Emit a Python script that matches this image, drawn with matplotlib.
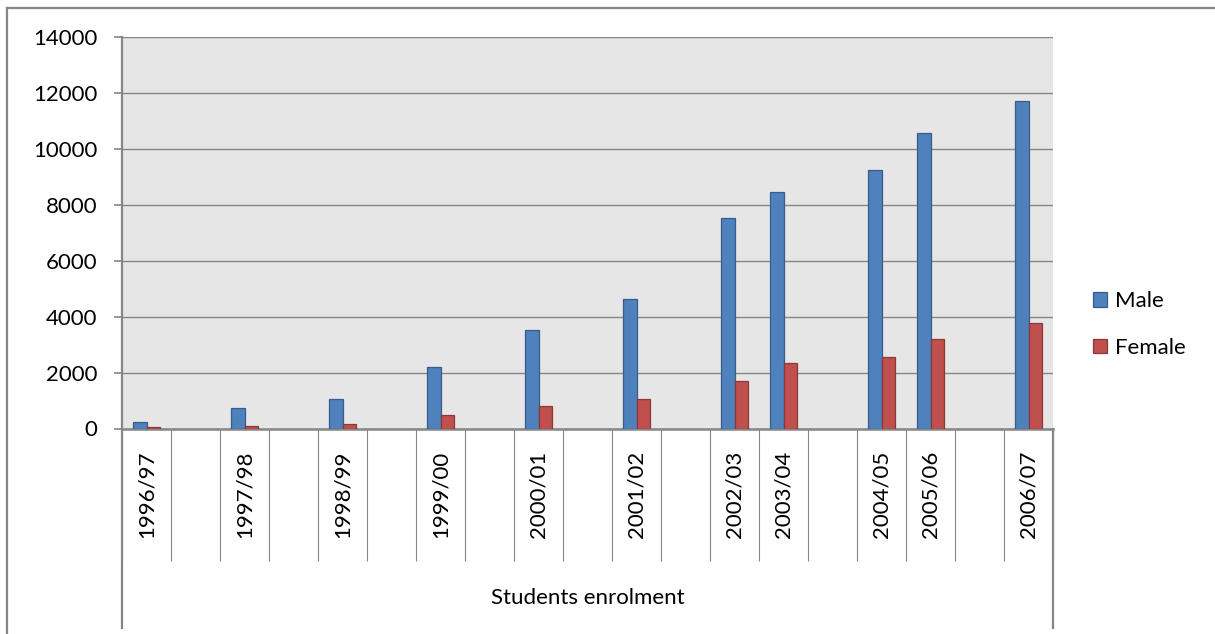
import numpy as np
import matplotlib
matplotlib.use("Agg")
import matplotlib.pyplot as plt
from matplotlib.lines import Line2D

# ================= data =================
# empty slots are blank rows of the original sheet
categories = ["1996/97", "", "1997/98", "", "1998/99", "", "1999/00", "",
              "2000/01", "", "2001/02", "", "2002/03", "2003/04", "",
              "2004/05", "2005/06", "", "2006/07"]
male = [240, None, 740, None, 1040, None, 2210, None,
        3530, None, 4650, None, 7540, 8460, None,
        9250, 10570, None, 11720]
female = [40, None, 100, None, 170, None, 490, None,
          810, None, 1040, None, 1690, 2330, None,
          2560, 3200, None, 3760]
series_names = ["Male", "Female"]
xlabel = "Students enrolment"
yticks = list(range(0, 14001, 2000))

# ================= style =================
plt.rcParams['font.family'] = ['Lato', 'DejaVu Sans']
FS = 16
GRAY = "#868686"
W, H, DPI = 1215, 634, 100

fig = plt.figure(figsize=(W / DPI, H / DPI), dpi=DPI)
ax_l, ax_r, ax_t, ax_b = 122, 1053, 37.3, 428.5
ax = fig.add_axes([ax_l / W, 1 - ax_b / H, (ax_r - ax_l) / W, (ax_b - ax_t) / H])
ax_h = ax_b - ax_t
px2pt = 72 / DPI

ax.set_facecolor("#E6E6E6")

n = len(categories)
centers = np.arange(n) + 0.5
bw = 0.285
m = np.array([np.nan if v is None else v for v in male], dtype=float)
f = np.array([np.nan if v is None else v for v in female], dtype=float)

b1 = ax.bar(centers - bw / 2, m, bw, color="#4F81BD", edgecolor="#385D8A",
            linewidth=0.9, label=series_names[0], zorder=3)
b2 = ax.bar(centers + bw / 2, f, bw, color="#C0504D", edgecolor="#8C3836",
            linewidth=0.9, label=series_names[1], zorder=3)

ax.set_xlim(0, n)
ax.set_ylim(0, 14000)
ax.set_yticks(yticks)
ax.set_yticklabels([str(v) for v in yticks], fontsize=FS)
ax.yaxis.grid(True, color=GRAY, linewidth=1.0, zorder=1)
ax.set_axisbelow(True)
ax.tick_params(axis="y", length=8 * px2pt, width=1.2, color=GRAY, pad=12)

# category boundaries as long major ticks, labels on minor ticks
ax.set_xticks(np.arange(n + 1))
ax.set_xticklabels([""] * (n + 1))
ax.tick_params(axis="x", which="major", length=131.5 * px2pt, width=0.8,
               color=GRAY, direction="out")
ax.set_xticks(centers, minor=True)
ax.set_xticklabels(categories, minor=True, rotation=90, fontsize=FS)
ax.tick_params(axis="x", which="minor", length=0, pad=65.5 * px2pt)
for lbl in ax.get_xticklabels(minor=True):
    lbl.set_va("center")

for s in ["top", "right"]:
    ax.spines[s].set_visible(False)
ax.spines["left"].set_color(GRAY)
ax.spines["left"].set_linewidth(1.6)
ax.spines["bottom"].set_color(GRAY)
ax.spines["bottom"].set_linewidth(1.8)

# outer group frame lines below the axis
low = -(628 - ax_b) / ax_h
for xv in (0, n):
    ax.plot([xv, xv], [0, low], transform=ax.get_xaxis_transform(),
            color=GRAY, linewidth=1.6, clip_on=False)

ax.text(0.5, -(598 - ax_b) / ax_h, xlabel, transform=ax.transAxes,
        ha="center", va="center", fontsize=FS)

leg = ax.legend(handles=[b1, b2], loc="center left",
                bbox_to_anchor=(1093 / W, 1 - 324.4 / H),
                bbox_transform=fig.transFigure, frameon=False, fontsize=FS,
                handlelength=0.65, handleheight=0.65, handletextpad=0.35,
                labelspacing=1.2, borderpad=0, borderaxespad=0)

# chart border (left and top edges visible)
bx, by = 7 / W, 1 - 8 / H
fig.add_artist(Line2D([bx, bx], [0, by], transform=fig.transFigure,
                      color=GRAY, linewidth=1.6))
fig.add_artist(Line2D([bx, 1], [by, by], transform=fig.transFigure,
                      color=GRAY, linewidth=1.6))

fig.savefig("out.png", dpi=DPI)
